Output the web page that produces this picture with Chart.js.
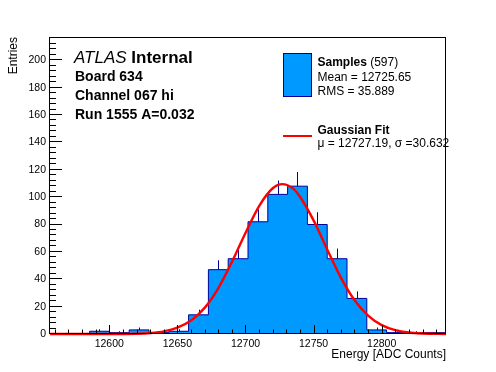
<!DOCTYPE html>
<html>
<head>
<meta charset="utf-8">
<script src="https://cdn.jsdelivr.net/npm/chart.js@4/dist/chart.umd.min.js"></script>
<style>
  html, body { margin: 0; padding: 0; background: #ffffff; }
  #wrap { width: 496px; height: 372px; position: relative; }
</style>
</head>
<body>
<div id="wrap"><canvas id="c" width="496" height="372"></canvas></div>
<script>
// ---------------- data ----------------
const histRange = [12556.5, 12847.2];          // histogram x range (20 equal bins)
const binCounts = [0, 0, 2, 1, 3, 1, 2, 14, 47, 55, 82, 102, 108, 80, 55, 26, 3, 1, 1, 1];
const fitX = [12556.5, 12580, 12600, 12620, 12630, 12640, 12650, 12660, 12670, 12680, 12690, 12700,
              12710, 12720, 12727, 12735, 12740, 12750, 12760, 12770, 12780, 12790, 12800, 12810,
              12820, 12830, 12847.2];
const fitY = [0, 0, 0.0, 0.2, 0.7, 1.9, 4.6, 9.8, 19.1, 33.4, 52.5, 73.8,
              93.5, 106.5, 109.5, 106.2, 100.3, 83.0, 61.7, 41.2, 24.8, 13.4, 6.5, 2.8,
              1.1, 0.4, 0.0];
const yTickLabels = [0, 20, 40, 60, 80, 100, 120, 140, 160, 180, 200];
const xTickLabels = [12600, 12650, 12700, 12750, 12800];
const yMax = 217;
const legendSamples = { title: 'Samples', entries: '(597)', mean: 'Mean = 12725.65', rms: 'RMS = 35.889' };
const legendFit = { title: 'Gaussian Fit', params: 'μ = 12727.19, σ =30.632' };
const atlasLines = ['Board 634', 'Channel 067 hi', 'Run 1555 A=0.032'];

// ---------------- build ----------------
const nBins = binCounts.length;
const binW = (histRange[1] - histRange[0]) / nBins;
const stepPts = binCounts.map((n, i) => ({ x: histRange[0] + i * binW, y: n }));
stepPts.push({ x: histRange[1], y: binCounts[nBins - 1] });
const fitPts = fitX.map((x, i) => ({ x: x, y: fitY[i] }));

const FONT = '"Liberation Sans", Arial, Helvetica, sans-serif';
const FILL = '#0099ff';
const LINE = '#000099';

const rootPlugin = {
  id: 'rootStyle',
  afterDatasetDraw(chart, args) {
    if (args.meta.index !== 1) return; // after histogram: error bars
    const { ctx, scales: { x, y }, chartArea: a } = chart;
    ctx.save();
    ctx.beginPath(); ctx.rect(a.left, a.top, a.right - a.left, a.bottom - a.top); ctx.clip();
    ctx.strokeStyle = LINE; ctx.lineWidth = 1;
    binCounts.forEach((n, i) => {
      if (n <= 0) return;
      const cx = Math.round(x.getPixelForValue(histRange[0] + (i + 0.5) * binW)) + 0.5;
      ctx.beginPath();
      ctx.moveTo(cx, y.getPixelForValue(n));
      ctx.lineTo(cx, y.getPixelForValue(n + Math.sqrt(n)));
      ctx.stroke();
    });
    ctx.restore();
  },
  afterDraw(chart) {
    const { ctx, scales: { x, y }, chartArea: a } = chart;
    ctx.save();
    // frame
    ctx.strokeStyle = '#000'; ctx.lineWidth = 1;
    ctx.strokeRect(Math.round(a.left) - 0.5, Math.round(a.top) + 0.5, Math.round(a.right - a.left), Math.round(a.bottom - a.top) - 1);
    // y ticks
    ctx.beginPath();
    for (let v = 0; v <= yMax; v += 4) {
      const py = Math.round(y.getPixelForValue(v)) - 0.5;
      const len = (v % 20 === 0) ? 12 : 6;
      ctx.moveTo(a.left, py); ctx.lineTo(a.left + len, py);
    }
    // x ticks
    for (let v = 12560; v <= histRange[1]; v += 10) {
      const px = Math.round(x.getPixelForValue(v)) + 0.5;
      const len = (v % 50 === 0) ? 9 : 4.5;
      ctx.moveTo(px, a.bottom); ctx.lineTo(px, a.bottom - len);
    }
    ctx.stroke();

    ctx.fillStyle = '#000';
    // axis titles
    ctx.font = '12px ' + FONT;
    ctx.textAlign = 'right'; ctx.textBaseline = 'alphabetic';
    ctx.fillText('Energy [ADC Counts]', a.right, 358);
    ctx.save();
    ctx.translate(16.5, a.top);
    ctx.rotate(-Math.PI / 2);
    ctx.textAlign = 'right';
    ctx.fillText('Entries', 0, 0);
    ctx.restore();

    // ATLAS label
    ctx.textAlign = 'left';
    ctx.font = 'italic 17px ' + FONT;
    ctx.fillText('ATLAS', 74, 63);
    const wA = ctx.measureText('ATLAS ').width;
    ctx.font = 'bold 17px ' + FONT;
    ctx.fillText('Internal', 74 + wA, 63);
    ctx.font = 'bold 14px ' + FONT;
    const base = [80.5, 100, 118.5];
    atlasLines.forEach((t, i) => ctx.fillText(t, 75, base[i]));

    // legend
    ctx.fillStyle = FILL;
    ctx.fillRect(283.5, 53.5, 28, 43);
    ctx.strokeStyle = LINE; ctx.lineWidth = 1;
    ctx.strokeRect(283.5, 53.5, 28, 43);
    ctx.fillStyle = '#000';
    ctx.font = 'bold 12px ' + FONT;
    ctx.fillText(legendSamples.title, 317.5, 65.5);
    const wS = ctx.measureText(legendSamples.title + ' ').width;
    ctx.font = '12px ' + FONT;
    ctx.fillText(legendSamples.entries, 317.5 + wS, 65.5);
    ctx.fillText(legendSamples.mean, 317.5, 80.5);
    ctx.fillText(legendSamples.rms, 317.5, 94.5);
    ctx.font = 'bold 12px ' + FONT;
    ctx.fillText(legendFit.title, 317.5, 134);
    ctx.font = '12px ' + FONT;
    ctx.fillText(legendFit.params, 317.5, 146.5);
    ctx.strokeStyle = '#ff0000'; ctx.lineWidth = 2;
    ctx.beginPath(); ctx.moveTo(283, 136); ctx.lineTo(312, 136); ctx.stroke();
    ctx.restore();
  }
};

new Chart(document.getElementById('c'), {
  type: 'line',
  data: {
    datasets: [
      {
        label: 'Gaussian Fit',
        data: fitPts,
        borderColor: '#ff0000',
        borderWidth: 2.4,
        pointRadius: 0,
        fill: false,
        cubicInterpolationMode: 'monotone',
        clip: { left: 0, right: 0, top: 0, bottom: 3 },
        order: 1
      },
      {
        label: 'Samples',
        data: stepPts,
        stepped: true,
        borderColor: LINE,
        borderWidth: 1,
        backgroundColor: FILL,
        fill: 'origin',
        pointRadius: 0,
        order: 2
      }
    ]
  },
  options: {
    responsive: false,
    animation: false,
    devicePixelRatio: 1,
    layout: { padding: { top: 37, right: 50, left: 0, bottom: 0 } },
    plugins: { legend: { display: false }, tooltip: { enabled: false } },
    scales: {
      x: {
        type: 'linear',
        min: histRange[0], max: histRange[1],
        grid: { display: false, drawTicks: false },
        border: { display: false },
        afterFit: (s) => { s.height = 38; },
        afterBuildTicks: (s) => { s.ticks = xTickLabels.map(v => ({ value: v })); },
        ticks: { color: '#000', font: { family: FONT, size: 10.5 }, padding: 4, maxRotation: 0,
                 callback: (v) => String(v) }
      },
      y: {
        type: 'linear',
        min: 0, max: yMax,
        grid: { display: false, drawTicks: false },
        border: { display: false },
        afterFit: (s) => { s.width = 50; },
        afterBuildTicks: (s) => { s.ticks = yTickLabels.map(v => ({ value: v })); },
        ticks: { color: '#000', font: { family: FONT, size: 10.5 }, padding: 4,
                 callback: (v) => String(v) }
      }
    }
  },
  plugins: [rootPlugin]
});
</script>
</body>
</html>
